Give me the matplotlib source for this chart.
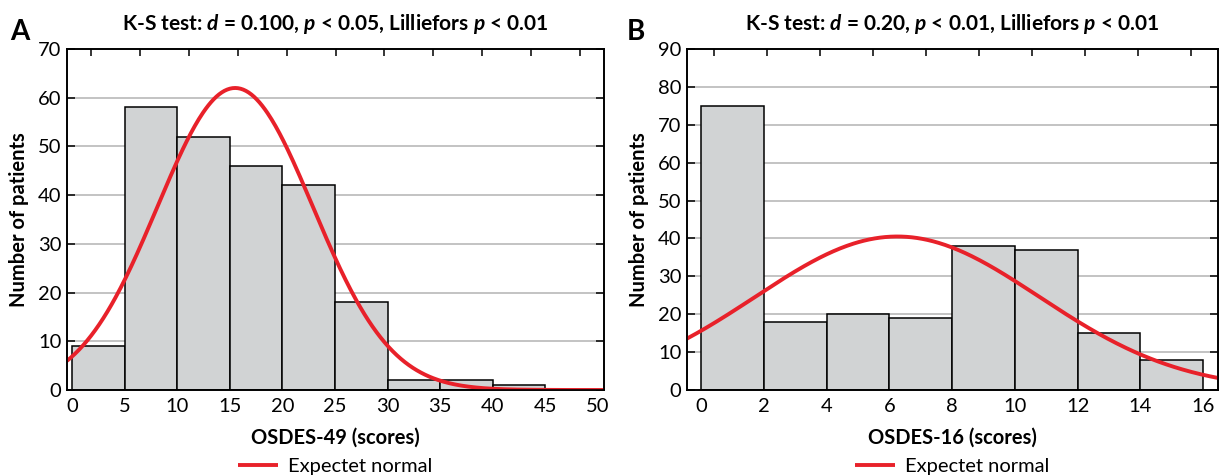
import numpy as np
import matplotlib as mpl
mpl.use('Agg')
import matplotlib.pyplot as plt

plt.rcParams['font.family'] = ['Lato', 'DejaVu Sans']
plt.rcParams['mathtext.fontset'] = 'custom'
plt.rcParams['mathtext.rm'] = 'Lato:bold'
plt.rcParams['mathtext.it'] = 'Lato:italic:bold'

# panel A: OSDES-49, bins of 5
edges_a = [0, 5, 10, 15, 20, 25, 30, 35, 40, 45]
counts_a = [9, 58, 52, 46, 42, 18, 2, 2, 1]
mean_a, sd_a, n_a = 15.5, 7.4, 230

# panel B: OSDES-16, bins of 2
edges_b = [0, 2, 4, 6, 8, 10, 12, 14, 16]
counts_b = [75, 18, 20, 19, 38, 37, 15, 8]
mean_b, sd_b, n_b = 6.25, 4.53, 230

red = '#e8212a'
bar_grey = '#d1d3d4'
fs = 14.5

fig = plt.figure(figsize=(12.2, 4.76), dpi=100)
ax_a = fig.add_axes([67/1220, 86/476, 537/1220, 341/476])
ax_b = fig.add_axes([687/1220, 86/476, 531/1220, 341/476])


def panel(ax, edges, counts, mean, sd, n, xlim, ymax, xticks, n_top,
          title, xlabel):
    widths = np.diff(edges)
    ax.bar(edges[:-1], counts, width=widths, align='edge', color=bar_grey,
           edgecolor='black', linewidth=1.1, zorder=2)
    bw = widths[0]
    # expected normal curve scaled to bin width
    x = np.linspace(xlim[0], xlim[1], 400)
    y = n * bw / (sd * np.sqrt(2 * np.pi)) * np.exp(-(x - mean) ** 2 / (2 * sd ** 2))
    ax.plot(x, y, color=red, lw=2.8, zorder=3, label='Expectet normal',
            solid_capstyle='butt')
    ax.set_xlim(*xlim)
    ax.set_ylim(0, ymax)
    ax.set_yticks(range(0, ymax + 1, 10))
    ax.set_xticks(xticks)
    for yy in range(10, ymax, 10):
        ax.axhline(yy, color='#b3b3b3', lw=1.1, zorder=1)
    ax.tick_params(axis='y', direction='in', length=6, width=1.1, right=True,
                   labelsize=fs, pad=4)
    ax.tick_params(axis='x', length=0, labelsize=fs, pad=6)
    for s in ax.spines.values():
        s.set_linewidth(1.2)
    top = ax.twiny()
    top.set_xlim(0, 1)
    top.set_xticks([(i + 0.5) / n_top for i in range(n_top)])
    top.tick_params(axis='x', direction='in', length=5, width=1.1, labeltop=False)
    for s in top.spines.values():
        s.set_linewidth(1.2)
    w_px = ax.get_position().width * 1220
    ax.text(0.5, 1 + 25/341, title, transform=ax.transAxes, ha='center',
            va='center', fontsize=15, fontweight='bold')
    ax.set_xlabel(xlabel, fontsize=fs, fontweight='bold', va='center')
    ax.xaxis.set_label_coords(0.5, -48/341)
    ax.set_ylabel('Number of patients', fontsize=fs, fontweight='bold', va='center')
    ax.yaxis.set_label_coords(-48/w_px, 0.5)
    ax.legend(loc='center', bbox_to_anchor=(0.5, -76/341), frameon=False,
              fontsize=fs, handlelength=2.0, handletextpad=0.5, borderaxespad=0)
    return ax


panel(ax_a, edges_a, counts_a, mean_a, sd_a, n_a, (-0.5, 50.6), 70,
      range(0, 51, 5), 11,
      'K-S test: $d$ = 0.100, $p$ < 0.05, Lilliefors $p$ < 0.01',
      'OSDES-49 (scores)')
panel(ax_b, edges_b, counts_b, mean_b, sd_b, n_b, (-0.45, 16.47), 90,
      range(0, 17, 2), 10,
      'K-S test: $d$ = 0.20, $p$ < 0.01, Lilliefors $p$ < 0.01',
      'OSDES-16 (scores)')

fig.text(10/1220, 1 - 40/476, 'A', fontsize=20, fontweight='bold', ha='left')
fig.text(627/1220, 1 - 40/476, 'B', fontsize=20, fontweight='bold', ha='left')

fig.savefig('out.png', dpi=100)
